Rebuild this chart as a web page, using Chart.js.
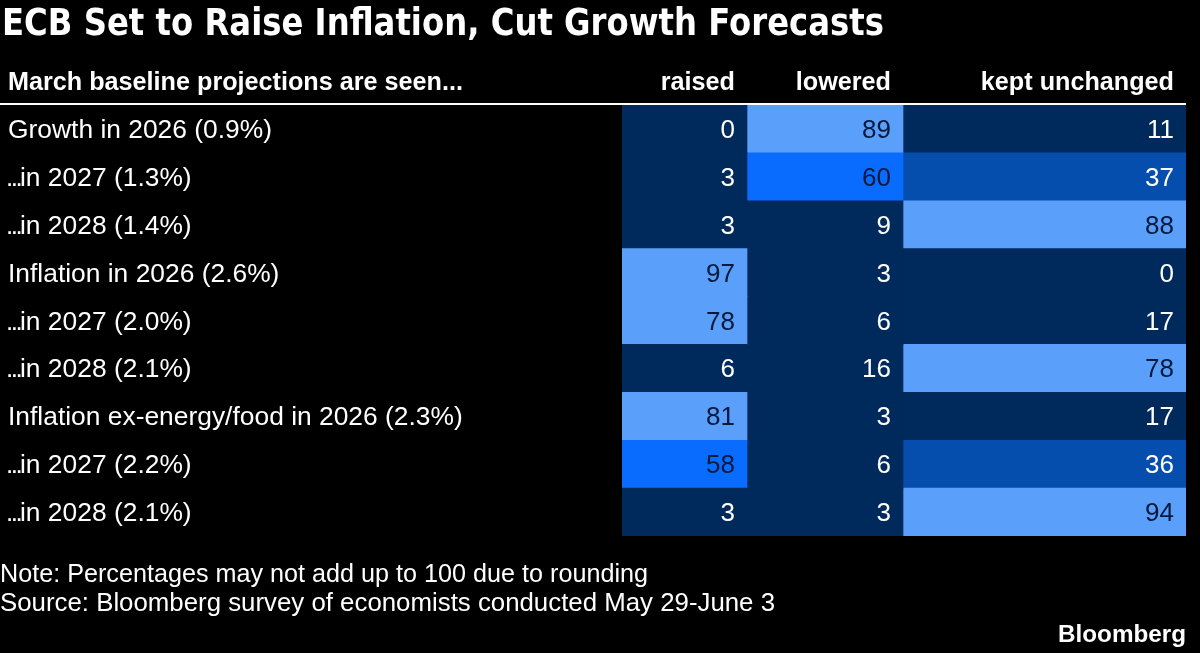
<!DOCTYPE html>
<html>
<head>
<meta charset="utf-8">
<script src="https://cdn.jsdelivr.net/npm/chart.js@4.4.1/dist/chart.umd.min.js"></script>
<style>
  html, body { margin: 0; padding: 0; background: #000; }
  #wrap { width: 1200px; height: 653px; position: relative; }
</style>
</head>
<body>
<div id="wrap"><canvas id="grafico"></canvas></div>
<script>
// Dados da tabela
const rowLabels = [
  "Growth in 2026 (0.9%)",
  "...in 2027 (1.3%)",
  "...in 2028 (1.4%)",
  "Inflation in 2026 (2.6%)",
  "...in 2027 (2.0%)",
  "...in 2028 (2.1%)",
  "Inflation ex-energy/food in 2026 (2.3%)",
  "...in 2027 (2.2%)",
  "...in 2028 (2.1%)"
];
const columnLabels = ["raised", "lowered", "kept unchanged"];
const raised  = [0, 3, 3, 97, 78, 6, 81, 58, 3];
const lowered = [89, 60, 9, 3, 6, 16, 3, 6, 3];
const kept    = [11, 37, 88, 0, 17, 78, 17, 36, 94];

const title = "ECB Set to Raise Inflation, Cut Growth Forecasts";
const headerLabel = "March baseline projections are seen...";
const note = "Note: Percentages may not add up to 100 due to rounding";
const source = "Source: Bloomberg survey of economists conducted May 29-June 3";

// Layout das colunas (largura em pixels da area do grafico)
const colEdges = [0, 125, 281, 564];

// Cor da celula conforme o percentual
function corCelula(v) {
  if (v >= 75) return "#5a9ffa";
  if (v >= 50) return "#0a6cff";
  if (v >= 25) return "#064eae";
  return "#012a5c";
}
function corTexto(v) {
  return v >= 50 ? "#04193c" : "#ffffff";
}

// Desenha texto com escala horizontal (para imitar fontes condensadas)
function textoEscalado(ctx, texto, x, y, font, sx, align) {
  ctx.save();
  ctx.font = font;
  ctx.translate(x, y);
  ctx.scale(sx, 1);
  ctx.textAlign = align || "left";
  ctx.textBaseline = "alphabetic";
  ctx.fillText(texto, 0, 0);
  ctx.restore();
}
// Mesma coisa, mas calcula a escala para caber numa largura
function textoAjustado(ctx, texto, x, y, font, largura, align) {
  ctx.font = font;
  const sx = largura / ctx.measureText(texto).width;
  textoEscalado(ctx, texto, x, y, font, sx, align);
}

const series = [raised, lowered, kept];

const datasets = series.map((valores, c) => ({
  label: columnLabels[c],
  data: valores.map(() => [colEdges[c], colEdges[c + 1]]),
  backgroundColor: valores.map(corCelula),
  borderWidth: 0,
  borderSkipped: false,
  grouped: false,
  barPercentage: 1,
  categoryPercentage: 1
}));

const fonteLinha = "26px 'Liberation Sans', Arial, sans-serif";

const tabelaPlugin = {
  id: "tabela",
  afterDraw(chart) {
    const ctx = chart.ctx;
    const area = chart.chartArea;
    const yScale = chart.scales.y;

    // rotulos das linhas (reticencias mais apertadas, como no original)
    ctx.save();
    ctx.fillStyle = "#ffffff";
    rowLabels.forEach((r, i) => {
      const y = yScale.getPixelForTick(i) + 9;
      let x = 8;
      let resto = r;
      if (r.startsWith("...")) {
        for (let d = 0; d < 3; d++) {
          textoEscalado(ctx, ".", 6 + d * 4.7, y, fonteLinha, 1, "left");
        }
        x = 20;
        resto = r.slice(3);
      }
      textoEscalado(ctx, resto, x, y, fonteLinha, 1.015, "left");
    });

    // valores nas celulas
    series.forEach((valores, c) => {
      const meta = chart.getDatasetMeta(c);
      meta.data.forEach((bar, i) => {
        ctx.fillStyle = corTexto(valores[i]);
        textoEscalado(ctx, String(valores[i]), bar.x - 12, bar.y + 9, fonteLinha, 1.0, "right");
      });
    });

    ctx.fillStyle = "#ffffff";

    // titulo
    textoAjustado(ctx, title, 2, 35, "bold 37px 'DejaVu Sans', sans-serif", 882, "left");

    // cabecalho
    const fonteCab = "bold 25px 'Liberation Sans', Arial, sans-serif";
    ctx.font = fonteCab;
    const escala = 455 / ctx.measureText(headerLabel).width;
    textoEscalado(ctx, headerLabel, 8, 90, fonteCab, escala, "left");
    series.forEach((_, c) => {
      const meta = chart.getDatasetMeta(c);
      textoEscalado(ctx, columnLabels[c], meta.data[0].x - 12, 90, fonteCab, escala, "right");
    });

    // linha abaixo do cabecalho
    ctx.strokeStyle = "#ffffff";
    ctx.lineWidth = 2;
    ctx.beginPath();
    ctx.moveTo(0, area.top - 1);
    ctx.lineTo(area.right, area.top - 1);
    ctx.stroke();

    // notas de rodape
    const fonteNota = "25px 'Liberation Sans', Arial, sans-serif";
    textoAjustado(ctx, note, 0, 582, fonteNota, 648, "left");
    textoAjustado(ctx, source, 0, 611, fonteNota, 775, "left");
    textoAjustado(ctx, "Bloomberg", area.right, 642, "bold 24px 'Liberation Sans', Arial, sans-serif", 128, "right");
    ctx.restore();
  }
};

const ctx = document.getElementById("grafico");

new Chart(ctx, {
  type: "bar",
  data: { labels: rowLabels, datasets: datasets },
  options: {
    indexAxis: "y",
    responsive: true,
    maintainAspectRatio: false,
    animation: false,
    layout: { padding: { left: 8, right: 14, top: 105, bottom: 117 } },
    plugins: {
      legend: { display: false },
      tooltip: { enabled: false }
    },
    scales: {
      x: {
        type: "linear",
        min: 0,
        max: colEdges[colEdges.length - 1],
        display: false
      },
      y: {
        grid: { display: false },
        border: { display: false },
        afterFit(axis) { axis.width = 614; },
        ticks: { display: false }
      }
    }
  },
  plugins: [tabelaPlugin]
});
</script>
</body>
</html>
